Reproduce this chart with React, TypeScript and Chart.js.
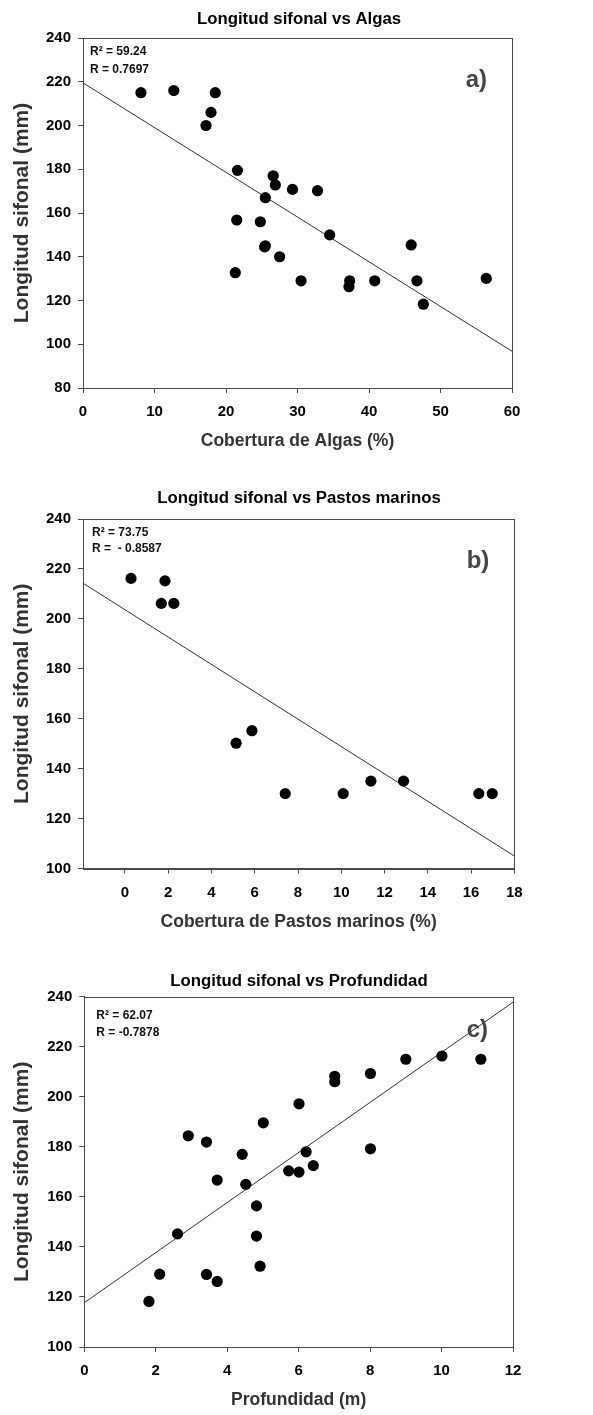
import React, { useEffect, useRef } from "react";
import { Chart, registerables } from "chart.js";

Chart.register(...registerables);

// ---------- Data ----------
// Panel a: Longitud sifonal vs Algas
const algasX = [8.1, 12.7, 18.5, 17.9, 17.2, 21.6, 26.6, 26.9, 29.3, 32.8, 25.5, 21.5, 24.8, 25.5, 25.4, 27.5, 21.3, 30.5, 37.3, 37.2, 40.8, 34.5, 45.9, 46.7, 47.6, 56.4];
const algasY = [215, 216, 215, 206, 200, 179.5, 177, 172.8, 170.8, 170.2, 167, 156.8, 156, 145, 144.5, 140, 132.7, 129, 129, 126.3, 129, 150, 145.4, 129, 118.3, 130.1];
const algasFitX = [0, 60];
const algasFitY = [219.5, 96.8];
const algasXTicks = [0, 10, 20, 30, 40, 50, 60];
const algasYTicks = [80, 100, 120, 140, 160, 180, 200, 220, 240];

// Panel b: Longitud sifonal vs Pastos marinos
const pastosX = [0.28, 1.85, 1.68, 2.26, 5.14, 5.87, 7.41, 10.09, 11.37, 12.88, 16.36, 16.98];
const pastosY = [216.2, 215.2, 206.2, 206.2, 150.2, 155.2, 130, 130, 135, 135, 130, 130];
const pastosFitX = [-1.94, 18];
const pastosFitY = [214.3, 105];
const pastosXTicks = [0, 2, 4, 6, 8, 10, 12, 14, 16, 18];
const pastosYTicks = [100, 120, 140, 160, 180, 200, 220, 240];

// Panel c: Longitud sifonal vs Profundidad
const profX = [2.91, 3.42, 3.72, 4.42, 4.52, 5.01, 5.72, 6.01, 6.01, 6.21, 6.41, 7.01, 7.01, 8.01, 8.01, 9.0, 10.01, 11.1, 4.82, 2.61, 4.82, 4.92, 2.11, 3.42, 3.72, 1.81];
const profY = [184.4, 181.9, 166.7, 177, 165, 189.6, 170.4, 169.9, 197.2, 178, 172.5, 208.2, 206, 209.3, 179.2, 215, 216.3, 215, 156.4, 145.2, 144.3, 132.3, 129.1, 129, 126.2, 118.2];
const profFitX = [0, 12];
const profFitY = [117.7, 237.8];
const profXTicks = [0, 2, 4, 6, 8, 10, 12];
const profYTicks = [100, 120, 140, 160, 180, 200, 220, 240];

const FONT = "'Liberation Sans', Arial, Helvetica, sans-serif";

type Panel = {
  title: string;
  xTitle: string;
  yTitle: string;
  xs: number[];
  ys: number[];
  fitX: number[];
  fitY: number[];
  xTicks: number[];
  yTicks: number[];
  xMin: number;
  xMax: number;
  yMin: number;
  yMax: number;
  stats: string[];
  tag: string;
  // layout
  top: number;
  height: number;
  titlePadTop: number;
  titlePadBottom: number;
  plotLeft: number;
  padRight: number;
  padBottom: number;
  statsDx: number;
  statsDy: number;
  statsGap: number;
  tagDy: number;
};

const panels: Panel[] = [
  {
    title: "Longitud sifonal vs Algas",
    xTitle: "Cobertura de Algas (%)",
    yTitle: "Longitud sifonal (mm)",
    xs: algasX, ys: algasY, fitX: algasFitX, fitY: algasFitY,
    xTicks: algasXTicks, yTicks: algasYTicks,
    xMin: 0, xMax: 60, yMin: 80, yMax: 240,
    stats: ["R\u00B2 = 59.24", "R = 0.7697"],
    tag: "a)",
    top: 0, height: 479, titlePadTop: 9, titlePadBottom: 8.84,
    plotLeft: 83, padRight: 81, padBottom: 27,
    statsDx: 7, statsDy: 14, statsGap: 18, tagDy: 42,
  },
  {
    title: "Longitud sifonal vs Pastos marinos",
    xTitle: "Cobertura de Pastos marinos (%)",
    yTitle: "Longitud sifonal (mm)",
    xs: pastosX, ys: pastosY, fitX: pastosFitX, fitY: pastosFitY,
    xTicks: pastosXTicks, yTicks: pastosYTicks,
    xMin: -1.94, xMax: 18, yMin: 100, yMax: 240,
    stats: ["R\u00B2 = 73.75", "R =  - 0.8587"],
    tag: "b)",
    top: 479, height: 483, titlePadTop: 9, titlePadBottom: 10.84,
    plotLeft: 83, padRight: 78.7, padBottom: 29.5,
    statsDx: 9, statsDy: 14, statsGap: 16, tagDy: 42,
  },
  {
    title: "Longitud sifonal vs Profundidad",
    xTitle: "Profundidad (m)",
    yTitle: "Longitud sifonal (mm)",
    xs: profX, ys: profY, fitX: profFitX, fitY: profFitY,
    xTicks: profXTicks, yTicks: profYTicks,
    xMin: 0, xMax: 12, yMin: 100, yMax: 240,
    stats: ["R\u00B2 = 62.07", "R = -0.7878"],
    tag: "c)",
    top: 962, height: 453, titlePadTop: 9, titlePadBottom: 5.54,
    plotLeft: 84.3, padRight: 80, padBottom: 4,
    statsDx: 12, statsDy: 19, statsGap: 16.5, tagDy: 34,
  },
];

const LEFT_PAD = 5;

function ScatterPanel({ p }: { p: Panel }) {
  const ref = useRef<HTMLCanvasElement | null>(null);
  useEffect(() => {
    if (!ref.current) return;
    const framePlugin = {
      id: "frameAndText",
      afterDatasetsDraw(chart: any) {
        const { ctx, chartArea } = chart;
        ctx.save();
        ctx.strokeStyle = "#4a4a4a";
        ctx.lineWidth = 1;
        ctx.strokeRect(
          Math.round(chartArea.left) + 0.5,
          Math.round(chartArea.top) + 0.5,
          Math.round(chartArea.right - chartArea.left),
          Math.round(chartArea.bottom - chartArea.top)
        );
        // stats text
        ctx.fillStyle = "#111";
        ctx.font = `bold 12px ${FONT}`;
        ctx.textAlign = "left";
        ctx.textBaseline = "middle";
        p.stats.forEach((s, i) => {
          ctx.fillText(s, chartArea.left + p.statsDx, chartArea.top + p.statsDy + i * p.statsGap);
        });
        // panel tag
        ctx.fillStyle = "#444";
        ctx.font = `bold 24px ${FONT}`;
        ctx.textAlign = "right";
        ctx.fillText(p.tag, chartArea.right - 25, chartArea.top + p.tagDy);
        ctx.restore();
      },
    };
    const chart = new Chart(ref.current, {
      type: "scatter",
      data: {
        datasets: [
          {
            data: p.xs.map((x, i) => ({ x, y: p.ys[i] })),
            backgroundColor: "#000",
            borderColor: "#000",
            pointRadius: 5.6,
            pointBorderWidth: 0,
            showLine: false,
          },
          {
            data: p.fitX.map((x, i) => ({ x, y: p.fitY[i] })),
            borderColor: "#333",
            borderWidth: 1,
            pointRadius: 0,
            showLine: true,
            fill: false,
          },
        ],
      },
      options: {
        responsive: false,
        animation: false,
        events: [],
        layout: {
          autoPadding: false,
          padding: { left: LEFT_PAD, right: 0, top: 0, bottom: p.padBottom },
        },
        plugins: {
          legend: { display: false },
          tooltip: { enabled: false },
          title: {
            display: true,
            text: p.title,
            color: "#000",
            font: { family: FONT, size: 16.8, weight: "bold" },
            padding: { top: p.titlePadTop, bottom: p.titlePadBottom },
          },
        },
        scales: {
          x: {
            type: "linear",
            min: p.xMin,
            max: p.xMax,
            afterBuildTicks: (scale: any) => {
              scale.ticks = p.xTicks.map((v) => ({ value: v }));
            },
            grid: {
              display: true,
              drawOnChartArea: false,
              drawTicks: true,
              tickLength: 5,
              color: "#4a4a4a",
            },
            border: { display: true, color: "#4a4a4a" },
            ticks: {
              color: "#000",
              padding: 10,
              maxRotation: 0,
              autoSkip: false,
              font: { family: FONT, size: 15, weight: "bold" },
            },
            title: {
              display: true,
              text: p.xTitle,
              color: "#333",
              font: { family: FONT, size: 17.5, weight: "bold" },
              padding: { top: 0, bottom: 0 },
            },
          },
          y: {
            type: "linear",
            min: p.yMin,
            max: p.yMax,
            afterBuildTicks: (scale: any) => {
              scale.ticks = p.yTicks.map((v) => ({ value: v }));
            },
            afterFit: (scale: any) => {
              scale.width = p.plotLeft - LEFT_PAD;
            },
            grid: {
              display: true,
              drawOnChartArea: false,
              drawTicks: true,
              tickLength: 5,
              color: "#4a4a4a",
            },
            border: { display: true, color: "#4a4a4a" },
            ticks: {
              color: "#000",
              padding: 7,
              autoSkip: false,
              font: { family: FONT, size: 15, weight: "bold" },
            },
            title: {
              display: true,
              text: p.yTitle,
              color: "#333",
              font: { family: FONT, size: 21, weight: "bold" },
              padding: { top: 9.4 - LEFT_PAD, bottom: 0 },
            },
          },
          yRight: {
            type: "linear",
            position: "right",
            display: true,
            min: p.yMin,
            max: p.yMax,
            afterFit: (scale: any) => {
              scale.width = p.padRight;
            },
            grid: { display: false, drawTicks: false },
            border: { display: false },
            ticks: { display: false },
            title: { display: false },
          },
        },
      },
      plugins: [framePlugin],
    } as any);
    return () => chart.destroy();
  }, [p]);
  return (
    <canvas
      ref={ref}
      width={593}
      height={p.height}
      style={{ position: "absolute", left: 0, top: p.top, width: 593, height: p.height }}
    />
  );
}

export default function App() {
  return (
    <div style={{ position: "absolute", left: 0, top: 0, width: 593, height: 1415, background: "#fff" }}>
      {panels.map((p, i) => (
        <ScatterPanel key={i} p={p} />
      ))}
    </div>
  );
}
